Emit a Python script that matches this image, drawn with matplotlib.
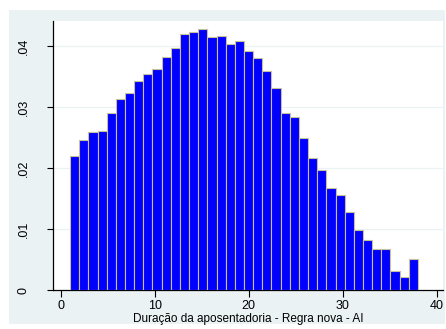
"""
Histogram: retirement duration (new rule - AI), Stata s2color look.
"""
import matplotlib
matplotlib.use("Agg")
import matplotlib.pyplot as plt
from matplotlib.patches import Rectangle
import numpy as np

plt.rcParams["font.family"] = ["Liberation Sans", "DejaVu Sans"]

# histogram bins: 38 bins spanning 1..38
BIN_START = 1
BIN_END   = 38
DENSITY   = [0.02197, 0.02459, 0.02596, 0.02612, 0.02896, 0.03126, 0.03230,
             0.03426, 0.03536, 0.03628, 0.03825, 0.03962, 0.04202, 0.04224,
             0.04279, 0.04142, 0.04169, 0.04027, 0.04077, 0.03918, 0.03803,
             0.03596, 0.03306, 0.02907, 0.02842, 0.02486, 0.02164, 0.01973,
             0.01678, 0.01557, 0.01273, 0.00984, 0.00825, 0.00667, 0.00667,
             0.00317, 0.00219, 0.00503]
XTICKS  = [0, 10, 20, 30, 40]
YTICKS  = [0, 0.01, 0.02, 0.03, 0.04]
YLABELS = ["0", ".01", ".02", ".03", ".04"]
XLABEL  = "Duração da aposentadoria - Regra nova - AI"

BG   = "#EAF2F3"
BLUE = "#0000FF"
EDGE = "#C8C09A"

fig = plt.figure(figsize=(4.46, 3.29), dpi=100)
fig.patch.set_facecolor("white")
fig.patches.append(Rectangle((9 / 446, 5 / 329), 436 / 446, 314 / 329,
                             transform=fig.transFigure, facecolor=BG,
                             edgecolor="none", zorder=-10))

ax = fig.add_axes([53 / 446, 39 / 329, 390 / 446, 269 / 329])
ax.set_facecolor("white")

edges = np.linspace(BIN_START, BIN_END, len(DENSITY) + 1)
ax.bar(edges[:-1], DENSITY, width=np.diff(edges), align="edge",
       color=BLUE, edgecolor=EDGE, linewidth=0.8, zorder=3)

ax.set_xlim(-0.82, 40.67)
ax.set_ylim(0, 0.0441)

ax.set_xticks(XTICKS)
ax.set_yticks(YTICKS)
ax.set_yticklabels(YLABELS, rotation=90, va="center")
ax.tick_params(axis="x", length=5, width=0.8, pad=2, labelsize=9)
ax.tick_params(axis="y", length=4, width=0.8, pad=13, labelsize=9)

for y in YTICKS[1:]:
    ax.axhline(y, color=BG, linewidth=0.9, zorder=1)

ax.spines[["top", "right"]].set_visible(False)
ax.spines["left"].set_linewidth(0.9)
ax.spines["bottom"].set_linewidth(0.9)

ax.set_xlabel(XLABEL, fontsize=8.5, labelpad=1)

fig.savefig("out.png", dpi=100)
